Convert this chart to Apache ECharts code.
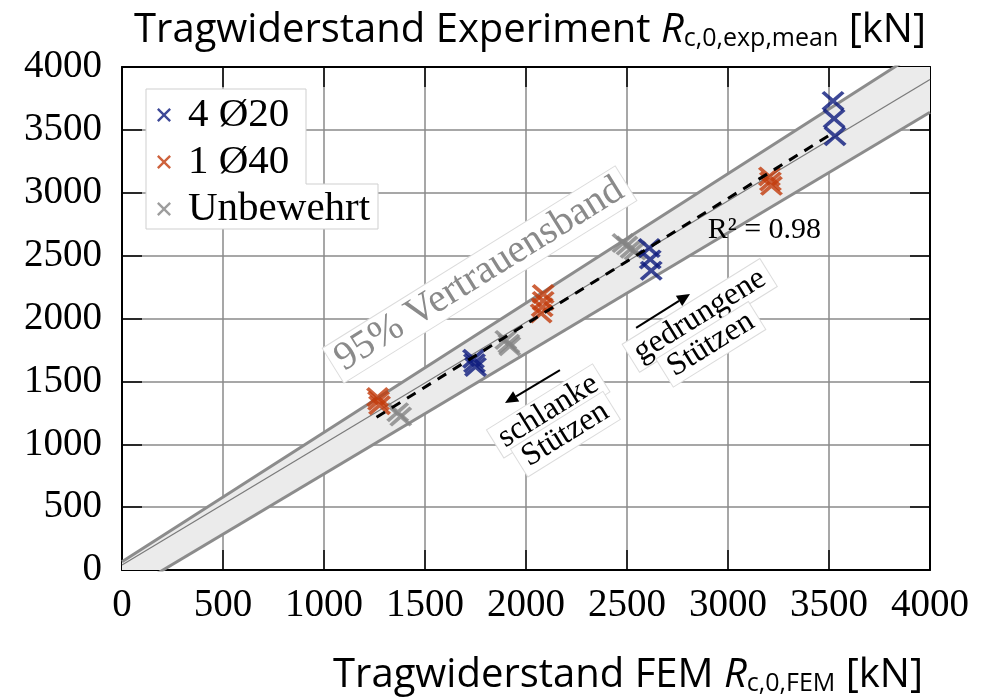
<!DOCTYPE html>
<html><head><meta charset="utf-8">
<script src="https://cdn.jsdelivr.net/npm/echarts@6/dist/echarts.min.js"></script>
<style>html,body{margin:0;padding:0;background:#fff}#c{width:994px;height:699px}</style>
</head><body><div id="c"></div>
<script>
// ---- data ----
const axisMin = 0, axisMax = 4000, axisStep = 500;
const seriesNames = ['4 Ø20', '1 Ø40', 'Unbewehrt'];
const rebar4x20 = [[1740,1680],[1745,1645],[1750,1615],[2610,2560],[2615,2470],[2620,2380],[3520,3730],[3525,3590],[3530,3450]];
const rebar1x40 = [[1265,1375],[1270,1345],[1275,1310],[2085,2195],[2085,2140],[2080,2090],[2075,2040],[3205,3130],[3210,3090],[3215,3055]];
const unreinforced = [[1365,1255],[1380,1220],[1900,1830],[1915,1800],[1920,1780],[2480,2600],[2500,2580],[2520,2555],[2540,2540]];
const bandUpper = [[0,65],[4000,4180]];
const bandLower = [[0,-195],[4000,3640]];
const centerLine = [[0,40],[4000,3900]];
const regressionLine = [[1260,1215],[3510,3465]];
const r2Text = 'R² = 0.98';
const bandText = '95% Vertrauensband';

const colors = ['#0c1a7d', '#c23b0b', '#858585'];
const crossPath = 'path://M0,2.4L2.4,0L10,7.6L17.6,0L20,2.4L12.4,10L20,17.6L17.6,20L10,12.4L2.4,20L0,17.6L7.6,10Z';
const serif = 'Liberation Serif';
const sans = 'Open Sans';

const chart = echarts.init(document.getElementById('c'), null, {renderer: 'canvas'});

const baseAxis = {
  type: 'value', min: axisMin, max: axisMax, interval: axisStep,
  axisLine: {show: true, onZero: false, lineStyle: {color: '#000', width: 2}},
  axisTick: {show: true, inside: true, length: 20, lineStyle: {color: '#000', width: 1.5}},
  splitLine: {show: false}
};
const labelFmt = v => String(v);

const titleRich = {
  a: {fontFamily: sans, fontSize: 40, fontWeight: 'normal', color: '#000', lineHeight: 50, verticalAlign: 'bottom'},
  i: {fontFamily: sans, fontSize: 40, fontWeight: 'normal', fontStyle: 'italic', color: '#000', lineHeight: 50, verticalAlign: 'bottom'},
  s: {fontFamily: sans, fontSize: 25, fontWeight: 'normal', color: '#000', lineHeight: 26, verticalAlign: 'bottom'}
};

const option = {
  animation: false,
  backgroundColor: '#fff',
  title: [
    {
      text: '{a|Tragwiderstand Experiment }{i|R}{s|c,0,exp,mean}{a| [kN]}',
      left: 525, textAlign: 'center', top: -4,
      textStyle: {fontWeight: 'normal', rich: titleRich}
    },
    {
      text: '{a|Tragwiderstand FEM }{i|R}{s|c,0,FEM}{a| [kN]}',
      left: 623, textAlign: 'center', top: 641,
      textStyle: {fontWeight: 'normal', rich: titleRich}
    }
  ],
  grid: {left: 122, top: 67, width: 808, height: 503, show: false},
  legend: {
    orient: 'vertical', left: 152, top: 89, z: 10,
    itemWidth: 14, itemHeight: 14, itemGap: 5,
    data: seriesNames.map((n, i) => ({name: n, icon: crossPath, itemStyle: {color: colors[i]}})),
    textStyle: {fontFamily: serif, fontSize: 41, color: '#000', lineHeight: 42, padding: [0,0,0,12]}
  },
  xAxis: [
    Object.assign({}, baseAxis, {
      position: 'bottom',
      axisLabel: {fontFamily: serif, fontSize: 39, color: '#000', margin: 16, formatter: labelFmt},
      splitLine: {show: true, lineStyle: {color: '#8a8a8a', width: 1.5}}
    }),
    Object.assign({}, baseAxis, {position: 'top', axisLabel: {show: false}})
  ],
  yAxis: [
    Object.assign({}, baseAxis, {
      position: 'left',
      axisLabel: {fontFamily: serif, fontSize: 39, color: '#000', margin: 20, formatter: labelFmt},
      splitLine: {show: true, lineStyle: {color: '#8a8a8a', width: 1.5}}
    }),
    Object.assign({}, baseAxis, {position: 'right', axisLabel: {show: false}})
  ],
  series: [
    {
      type: 'custom', silent: true, clip: true, z: 1,
      data: [[0, 0]], encode: {x: 0, y: 1},
      renderItem: function (params, api) {
        const pts = bandLower.concat(bandUpper.slice().reverse()).map(p => api.coord(p));
        return {type: 'polygon', shape: {points: pts}, style: {fill: '#ebebeb'}};
      }
    },
    {type: 'line', data: bandUpper, symbol: 'none', clip: true, silent: true, z: 2,
     lineStyle: {color: '#8c8c8c', width: 3}},
    {type: 'line', data: bandLower, symbol: 'none', clip: true, silent: true, z: 2,
     lineStyle: {color: '#8c8c8c', width: 3}},
    {type: 'line', data: centerLine, symbol: 'none', clip: true, silent: true, z: 2,
     lineStyle: {color: '#7a7a7a', width: 1.2}},
    {type: 'line', data: regressionLine, symbol: 'none', clip: true, silent: true, z: 6,
     lineStyle: {color: '#000', width: 3, type: [10, 8]}},
    {name: seriesNames[0], type: 'scatter', data: rebar4x20, symbol: crossPath, symbolSize: [23, 20], z: 5,
     itemStyle: {color: colors[0]}},
    {name: seriesNames[1], type: 'scatter', data: rebar1x40, symbol: crossPath, symbolSize: [23, 20], z: 5,
     itemStyle: {color: colors[1]}},
    {name: seriesNames[2], type: 'scatter', data: unreinforced, symbol: crossPath, symbolSize: [23, 20], z: 4,
     itemStyle: {color: colors[2]}}
  ]
};
chart.setOption(option);

// ---- annotations placed via the chart's own coordinate conversion ----
function px(p) { return chart.convertToPixel({xAxisIndex: 0, yAxisIndex: 0}, p); }
const o = px([0, 0]), d = px([4000, 4000]);
const ang = Math.atan2(o[1] - d[1], d[0] - o[0]);

function arrow(from, to) {
  const a = px(from), b = px(to);
  const th = Math.atan2(b[1] - a[1], b[0] - a[0]);
  const L = 13, W = 6;
  const bx = b[0] - L * Math.cos(th), by = b[1] - L * Math.sin(th);
  return [
    {type: 'line', z: 20, shape: {x1: a[0], y1: a[1], x2: bx, y2: by}, style: {stroke: '#000', lineWidth: 2}},
    {type: 'polygon', z: 20, shape: {points: [b, [bx + W * Math.sin(th), by - W * Math.cos(th)], [bx - W * Math.sin(th), by + W * Math.cos(th)]]}, style: {fill: '#000'}}
  ];
}
function label(at, text, size, color, box) {
  const p = px(at);
  return {type: 'text', z: 19, x: p[0], y: p[1], rotation: ang,
    style: Object.assign({text: text, font: size + 'px "' + serif + '"', fill: color, align: 'center', verticalAlign: 'middle'},
      box ? {backgroundColor: '#fff', borderColor: '#dcdcdc', borderWidth: 1, padding: [0, 6, 0, 6]} : {})};
}
const legendBox = {type: 'polygon', z: 8, shape: {points: [[146, 89], [306, 89], [306, 184], [378, 184], [378, 229], [146, 229]]},
  style: {fill: '#fff', stroke: '#cfcfcf', lineWidth: 1}};
const r2p = px([3180, 2700]);
chart.setOption({graphic: [
  legendBox,
  label([1770, 2350], bandText, 40, '#8a8a8a', true),
  {type: 'text', z: 19, x: r2p[0], y: r2p[1], style: {text: r2Text, font: '30px "' + serif + '"', fill: '#000', align: 'center', verticalAlign: 'middle'}},
  label([2860, 2025], 'gedrungene', 32, '#000', true),
  label([2915, 1795], 'Stützen', 32, '#000', true),
  label([2110, 1265], 'schlanke', 32, '#000', true),
  label([2195, 1080], 'Stützen', 32, '#000', true)
].concat(arrow([2545, 1925], [2812, 2195])).concat(arrow([2168, 1590], [1896, 1328]))});
</script>
</body></html>
